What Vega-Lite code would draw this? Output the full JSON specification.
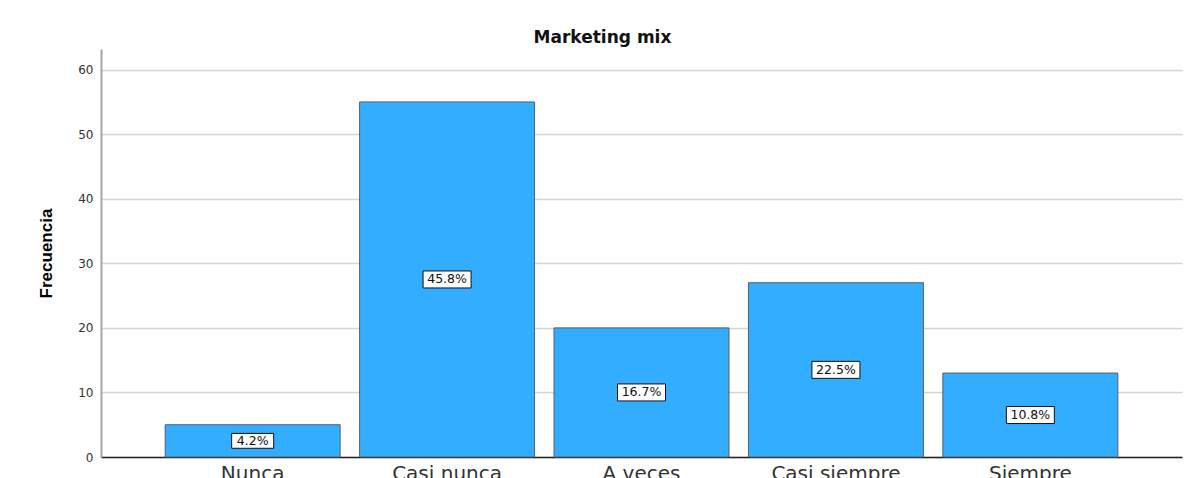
{
  "$schema": "https://vega.github.io/schema/vega-lite/v6.json",
  "autosize": {"type": "none"},
  "width": 1081,
  "height": 408,
  "padding": {"left": 101, "top": 49, "right": 5, "bottom": 21},
  "background": "white",
  "title": {
    "text": "Marketing mix",
    "font": "DejaVu Sans",
    "fontSize": 17,
    "fontWeight": "bold",
    "color": "#111111",
    "anchor": "middle",
    "dx": -39,
    "dy": 17,
    "baseline": "alphabetic",
    "offset": 6
  },
  "config": {
    "view": {"stroke": null},
    "axis": {"labelFont": "DejaVu Sans", "titleFont": "Liberation Sans"}
  },
  "data": {
    "values": [
      {"categoria": "Nunca", "frecuencia": 5, "porcentaje": "4.2%"},
      {"categoria": "Casi nunca", "frecuencia": 55, "porcentaje": "45.8%"},
      {"categoria": "A veces", "frecuencia": 20, "porcentaje": "16.7%"},
      {"categoria": "Casi siempre", "frecuencia": 27, "porcentaje": "22.5%"},
      {"categoria": "Siempre", "frecuencia": 13, "porcentaje": "10.8%"}
    ]
  },
  "transform": [{"calculate": "datum.frecuencia / 2", "as": "mitad"}],
  "encoding": {
    "x": {
      "field": "categoria",
      "type": "nominal",
      "sort": null,
      "scale": {"paddingInner": 0.1, "paddingOuter": 0.33},
      "axis": {
        "title": null,
        "labelAngle": 0,
        "labelFontSize": 20,
        "labelColor": "#333333",
        "labelPadding": 6,
        "labelBaseline": "top",
        "ticks": false,
        "domainColor": "#222222",
        "domainWidth": 1.5,
        "grid": false
      }
    }
  },
  "layer": [
    {
      "mark": {"type": "bar", "fill": "#33adff", "stroke": "#55606a", "strokeWidth": 1},
      "encoding": {
        "y": {
          "field": "frecuencia",
          "type": "quantitative",
          "scale": {"domain": [0, 63.2], "nice": false},
          "axis": {
            "title": "Frecuencia",
            "titleFontSize": 17,
            "titleFontWeight": "bold",
            "titleColor": "#000000",
            "titlePadding": 22,
            "values": [0, 10, 20, 30, 40, 50, 60],
            "labelFontSize": 12,
            "labelColor": "#333333",
            "labelPadding": 8,
            "ticks": false,
            "domainColor": "#a6a6a6",
            "domainWidth": 2,
            "grid": true,
            "gridColor": "#d4d4d4",
            "gridWidth": 1.5
          }
        }
      }
    },
    {
      "mark": {
        "type": "point",
        "shape": "M-1,-0.354L1,-0.354L1,0.354L-1,0.354Z",
        "filled": false,
        "fill": "white",
        "fillOpacity": 1,
        "stroke": "#111111",
        "strokeWidth": 1,
        "opacity": 1
      },
      "encoding": {
        "y": {"field": "mitad", "type": "quantitative"},
        "size": {
          "condition": {"test": "length(datum.porcentaje) < 5", "value": 1764},
          "value": 2304
        }
      }
    },
    {
      "mark": {
        "type": "text",
        "font": "DejaVu Sans",
        "fontSize": 12.5,
        "color": "#111111",
        "baseline": "middle",
        "align": "center"
      },
      "encoding": {
        "y": {"field": "mitad", "type": "quantitative"},
        "text": {"field": "porcentaje"}
      }
    }
  ]
}
